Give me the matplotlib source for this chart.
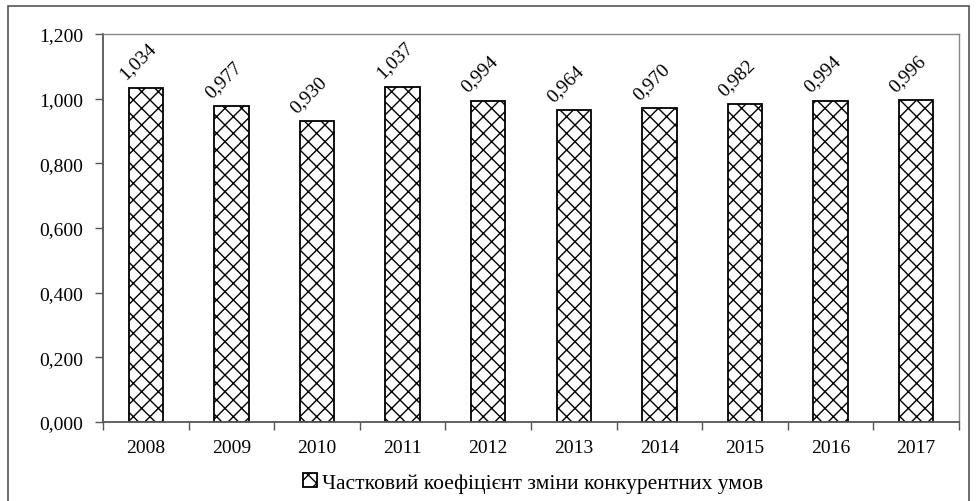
import matplotlib.pyplot as plt
from matplotlib.patches import Rectangle

plt.rc('font', family='Liberation Serif', size=14)
plt.rc('hatch', linewidth=1.0, color='black')

years = ['2008', '2009', '2010', '2011', '2012', '2013', '2014', '2015', '2016', '2017']
values = [1.034, 0.977, 0.930, 1.037, 0.994, 0.964, 0.970, 0.982, 0.994, 0.996]
series_name = 'Частковий коефіцієнт зміни конкурентних умов'


def fmt(v):
    return f'{v:.3f}'.replace('.', ',')


fig = plt.figure(figsize=(9.78, 5.02), dpi=100)
ax = fig.add_axes([103 / 978, 1 - 423 / 502, (959 - 103) / 978, (423 - 35) / 502])

# outer frame around the whole chart
fig.patches.append(Rectangle((8 / 978, -0.05), 961 / 978, 1.05 - 7 / 502,
                             transform=fig.transFigure, fill=False,
                             edgecolor='#555555', linewidth=1.2))

x = range(len(years))
bars = ax.bar(x, values, width=0.4, color='white', edgecolor='black',
              linewidth=1.3, hatch='xx', label=series_name)

for xi, v in zip(x, values):
    ax.annotate(fmt(v), (xi, v), xytext=(-6, 4), textcoords='offset points',
                ha='center', va='bottom', rotation=45, fontsize=14)

ax.set_xlim(-0.5, len(years) - 0.5)
ax.set_ylim(0, 1.2)
ax.set_yticks([0, 0.2, 0.4, 0.6, 0.8, 1.0, 1.2])
ax.set_yticklabels([fmt(t) for t in ax.get_yticks()])
ax.set_xticks(list(x))
ax.set_xticklabels(years)
ax.set_xticks([i - 0.5 for i in range(len(years) + 1)], minor=True)
ax.tick_params(axis='x', which='major', length=0, pad=12)
ax.tick_params(axis='x', which='minor', length=6, width=1, color='#555555')
ax.tick_params(axis='y', length=6, width=1, color='#555555', pad=8)

for s in ['left', 'bottom']:
    ax.spines[s].set_color('#555555')
    ax.spines[s].set_linewidth(1.3)
for s in ['top', 'right']:
    ax.spines[s].set_color('#888888')
    ax.spines[s].set_linewidth(1.0)

fig.legend(loc='center', bbox_to_anchor=(533 / 978, 1 - 484 / 502), frameon=False,
           handlelength=0.65, handleheight=0.65, handletextpad=0.25, fontsize=15.5)

fig.savefig('out.png', dpi=100)
